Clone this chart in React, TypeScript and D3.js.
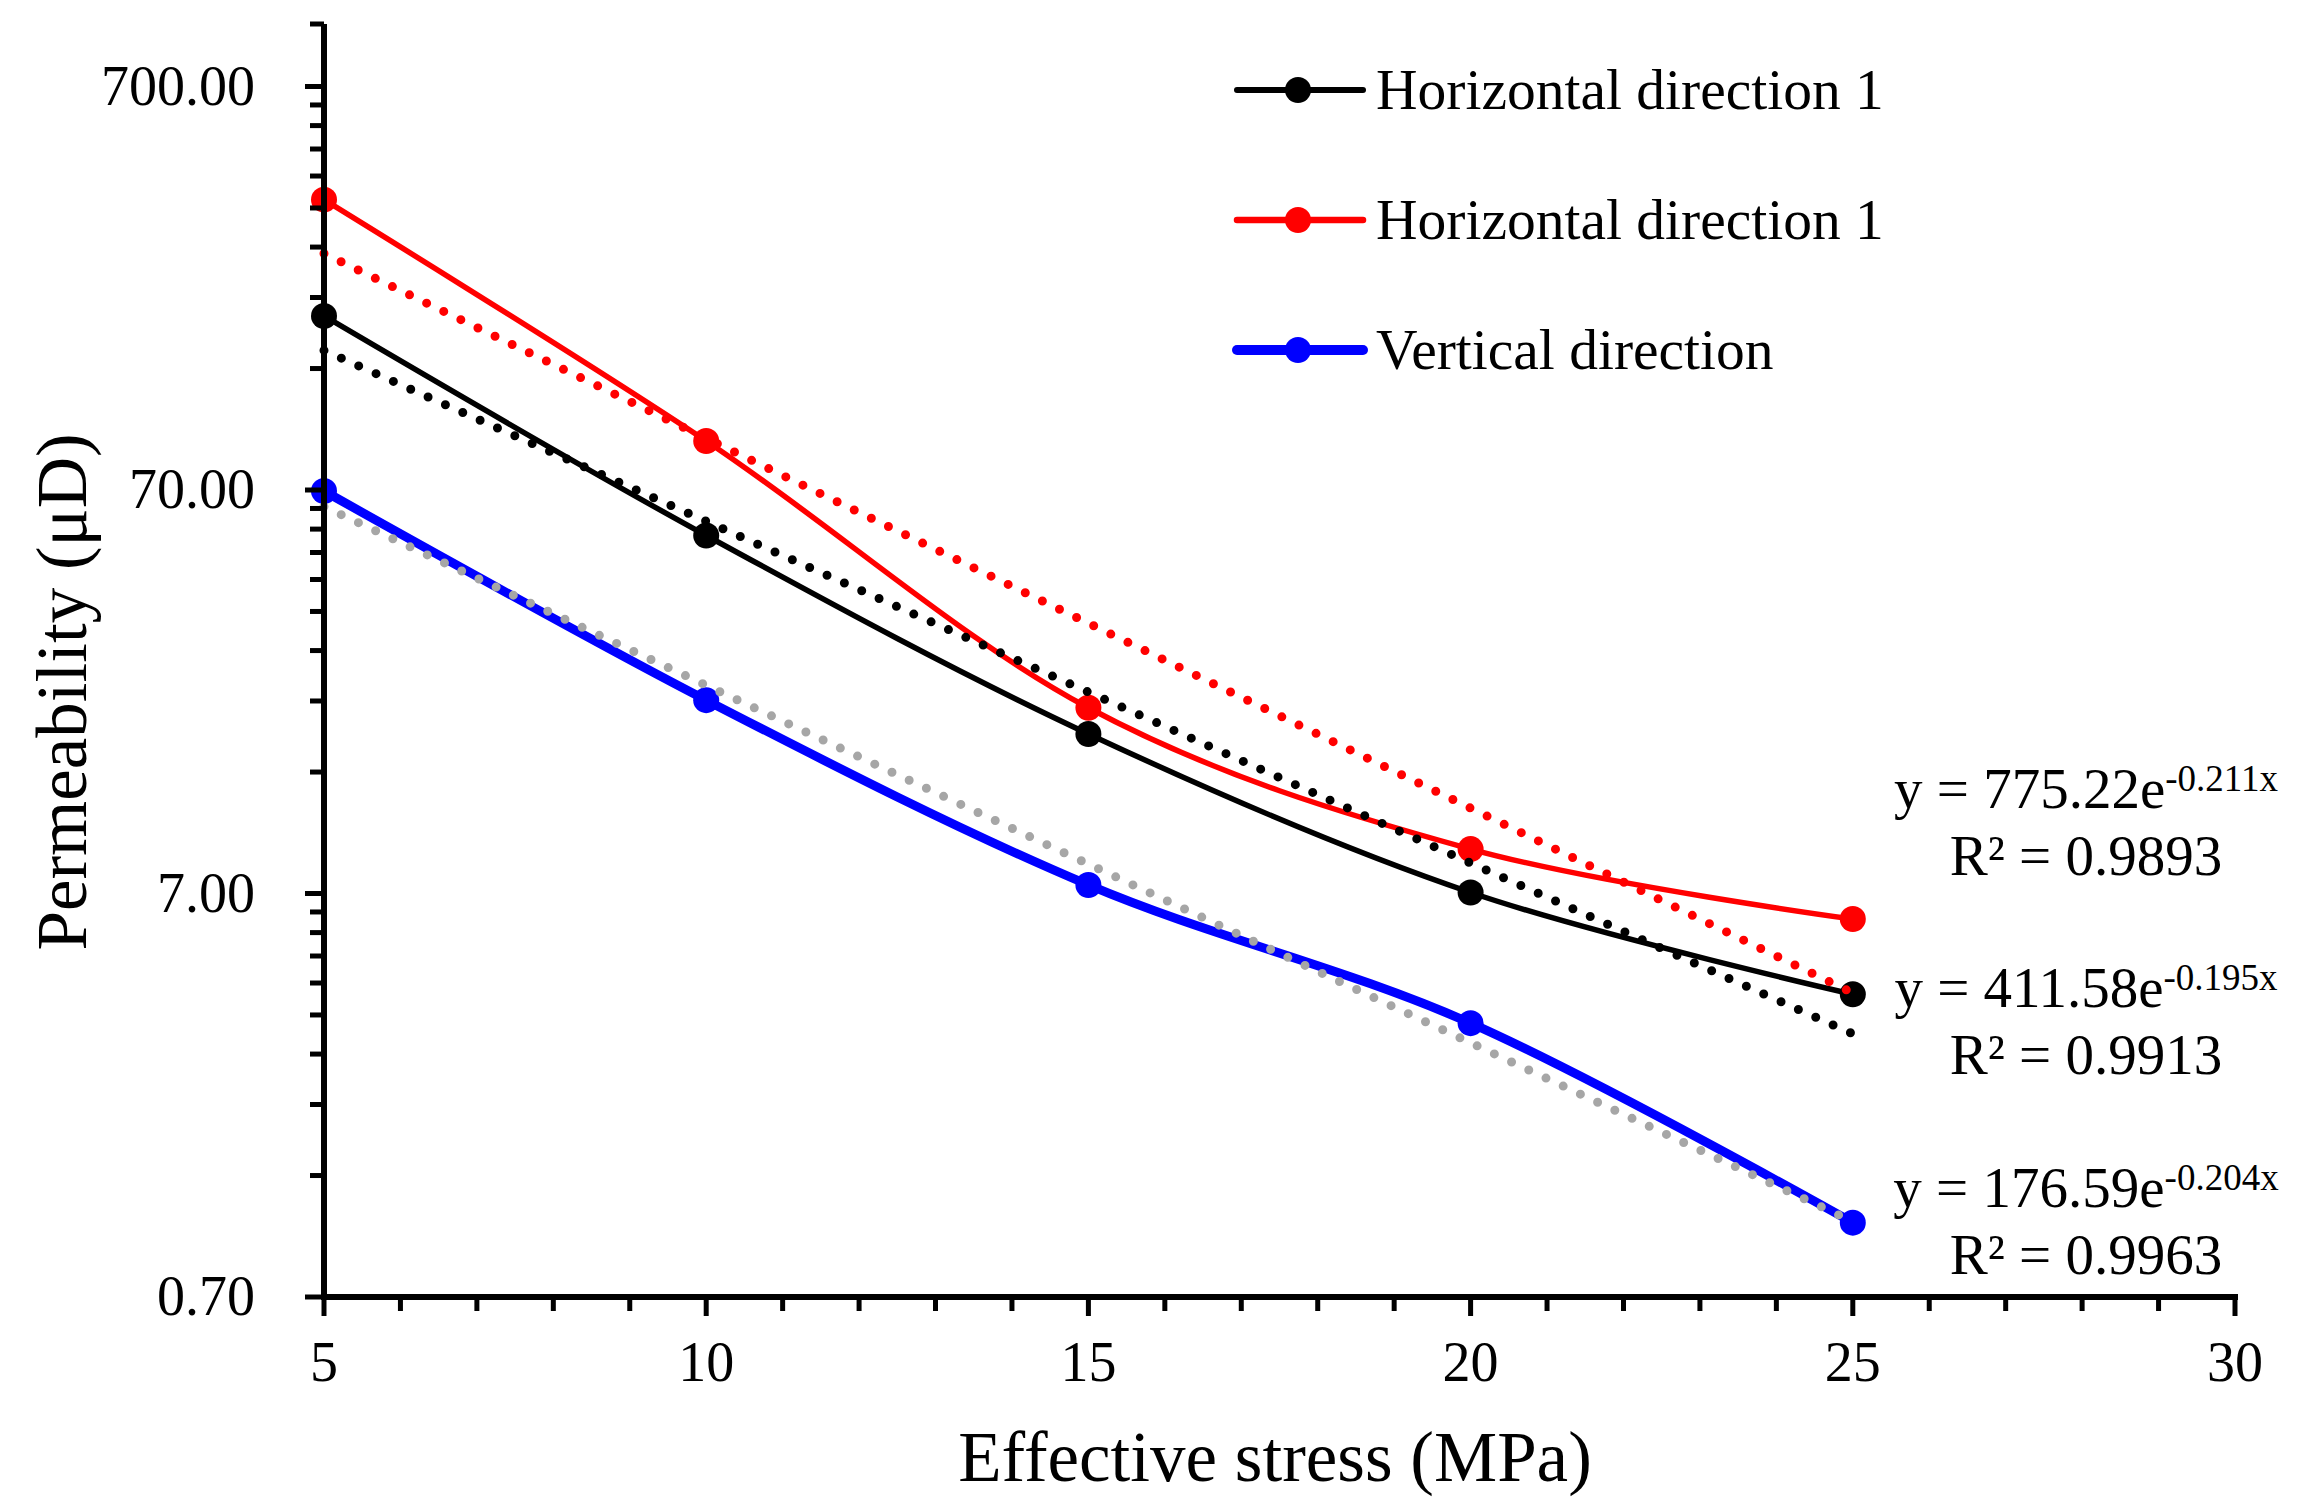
import * as d3 from "d3";
import { useEffect, useRef } from "react";

const WIDTH = 2302;
const HEIGHT = 1511;

// effective stress, MPa
const STRESS = [5, 10, 15, 20, 25];

// permeability, µD
const H1_VALUES = [189, 54.0, 17.4, 7.04, 3.94];
const H2_VALUES = [367, 92.6, 20.2, 9.02, 6.05];
const V_VALUES = [69.6, 21.1, 7.35, 3.34, 1.07];

const SERIES_NAMES = ["Horizontal direction 1", "Horizontal direction 1", "Vertical direction"];
const SERIES_COLORS = ["#000000", "#ff0000", "#0000ff"];
const TREND_COLORS = ["#000000", "#ff0000", "#a6a6a6"];

// exponential trendlines y = a·e^(b·x)
const TREND_A = [411.58, 775.22, 176.59];
const TREND_B = [-0.195, -0.211, -0.204];
const TREND_R2 = ["0.9913", "0.9893", "0.9963"];

const X_TICKS = [5, 10, 15, 20, 25, 30];
const Y_TICKS = [0.7, 7, 70, 700];

const FONT = "'Liberation Serif', 'Times New Roman', serif";

export default function App() {
  const svgRef = useRef<SVGSVGElement>(null);

  useEffect(() => {
    const node = svgRef.current;
    if (!node) return;
    const svg = d3.select(node);
    svg.selectAll("*").remove();

    const x = d3.scaleLinear().domain([5, 30]).range([324, 2235]);
    const y = d3.scaleLog().domain([0.7, 1000]).range([1297, 24]);

    const series = [H1_VALUES, H2_VALUES, V_VALUES];
    const lineWidths = [5.5, 5.5, 9];

    const line = d3
      .line<[number, number]>()
      .curve(d3.curveCardinal.tension(0))
      .x((d) => x(d[0]))
      .y((d) => y(d[1]));

    const plot = svg.append("g");

    // data lines + markers (draw in order black, red, blue)
    series.forEach((vals, i) => {
      const pts = STRESS.map((s, j) => [s, vals[j]] as [number, number]);
      plot
        .append("path")
        .attr("d", line(pts) ?? "")
        .attr("fill", "none")
        .attr("stroke", SERIES_COLORS[i])
        .attr("stroke-width", lineWidths[i])
        .attr("stroke-linejoin", "round");
      plot
        .selectAll(null)
        .data(pts)
        .enter()
        .append("circle")
        .attr("cx", (d) => x(d[0]))
        .attr("cy", (d) => y(d[1]))
        .attr("r", 13)
        .attr("fill", SERIES_COLORS[i]);
    });

    // trendlines (straight on a log axis)
    const trendX = d3.extent(STRESS) as [number, number];
    [2, 0, 1].forEach((i) => {
      const pts = trendX.map((s) => [s, TREND_A[i] * Math.exp(TREND_B[i] * s)] as [number, number]);
      plot
        .append("path")
        .attr("d", d3.line<[number, number]>().x((d) => x(d[0])).y((d) => y(d[1]))(pts) ?? "")
        .attr("fill", "none")
        .attr("stroke", TREND_COLORS[i])
        .attr("stroke-width", 9)
        .attr("stroke-linecap", "round")
        .attr("stroke-dasharray", "0 19");
    });

    // axes
    const axes = svg.append("g").attr("stroke", "#000");
    axes
      .append("line")
      .attr("x1", x(5))
      .attr("x2", x(5))
      .attr("y1", y(1000))
      .attr("y2", y(0.7) + 3)
      .attr("stroke-width", 6);
    axes
      .append("line")
      .attr("x1", x(5) - 3)
      .attr("x2", x(30) + 3)
      .attr("y1", y(0.7))
      .attr("y2", y(0.7))
      .attr("stroke-width", 6);

    // x ticks
    const xMinor = d3.range(5, 31, 1).filter((v) => !X_TICKS.includes(v));
    axes
      .selectAll(null)
      .data(xMinor)
      .enter()
      .append("line")
      .attr("x1", (d) => x(d))
      .attr("x2", (d) => x(d))
      .attr("y1", y(0.7))
      .attr("y2", y(0.7) + 14)
      .attr("stroke-width", 5);
    axes
      .selectAll(null)
      .data(X_TICKS)
      .enter()
      .append("line")
      .attr("x1", (d) => x(d))
      .attr("x2", (d) => x(d))
      .attr("y1", y(0.7))
      .attr("y2", y(0.7) + 19)
      .attr("stroke-width", 5);

    // y ticks
    const yMinor: number[] = [];
    Y_TICKS.forEach((t) => {
      for (let k = 2; k <= 9; k++) {
        const v = t * k;
        if (v < 1000) yMinor.push(v);
      }
    });
    yMinor.push(1000);
    axes
      .selectAll(null)
      .data(yMinor)
      .enter()
      .append("line")
      .attr("x1", x(5))
      .attr("x2", x(5) - 14)
      .attr("y1", (d) => y(d))
      .attr("y2", (d) => y(d))
      .attr("stroke-width", 5);
    axes
      .selectAll(null)
      .data(Y_TICKS)
      .enter()
      .append("line")
      .attr("x1", x(5))
      .attr("x2", x(5) - 19)
      .attr("y1", (d) => y(d))
      .attr("y2", (d) => y(d))
      .attr("stroke-width", 5);

    const labels = svg.append("g").attr("font-family", FONT).attr("fill", "#000");

    labels
      .selectAll(null)
      .data(X_TICKS)
      .enter()
      .append("text")
      .attr("x", (d) => x(d))
      .attr("y", 1381)
      .attr("text-anchor", "middle")
      .attr("font-size", 56)
      .text((d) => String(d));

    labels
      .selectAll(null)
      .data(Y_TICKS)
      .enter()
      .append("text")
      .attr("x", 255)
      .attr("y", (d) => y(d))
      .attr("dy", "0.33em")
      .attr("text-anchor", "end")
      .attr("font-size", 56)
      .text((d) => d3.format(".2f")(d));

    labels
      .append("text")
      .attr("x", 1275)
      .attr("y", 1481)
      .attr("text-anchor", "middle")
      .attr("font-size", 71)
      .text("Effective stress (MPa)");

    labels
      .append("text")
      .attr("transform", "translate(86,692) rotate(-90)")
      .attr("text-anchor", "middle")
      .attr("font-size", 71)
      .text("Permeability (μD)");

    // legend
    const legendY = [90, 220, 350];
    const legendW = [6, 6.5, 10];
    SERIES_NAMES.forEach((name, i) => {
      const g = svg.append("g").attr("transform", `translate(0,${legendY[i]})`);
      g.append("line")
        .attr("x1", 1237)
        .attr("x2", 1363)
        .attr("stroke", SERIES_COLORS[i])
        .attr("stroke-width", legendW[i])
        .attr("stroke-linecap", "round");
      g.append("circle").attr("cx", 1298).attr("r", 13).attr("fill", SERIES_COLORS[i]);
      g.append("text")
        .attr("x", 1376)
        .attr("y", 19)
        .attr("font-family", FONT)
        .attr("font-size", 57.5)
        .text(name);
    });

    // trendline equations
    const eqBaseline = [1007, 808, 1207];
    TREND_A.forEach((a, i) => {
      const t = labels
        .append("text")
        .attr("x", 2086)
        .attr("y", eqBaseline[i])
        .attr("text-anchor", "middle")
        .attr("font-size", 57);
      t.append("tspan").text(`y = ${d3.format(".2f")(a)}e`);
      t.append("tspan")
        .attr("font-size", 37)
        .attr("dy", -17)
        .text(`${d3.format(".3f")(TREND_B[i]).replace("−", "-")}x`);
      labels
        .append("text")
        .attr("x", 2086)
        .attr("y", eqBaseline[i] + 67)
        .attr("text-anchor", "middle")
        .attr("font-size", 57)
        .text(`R² = ${TREND_R2[i]}`);
    });
  }, []);

  return (
    <svg
      ref={svgRef}
      width={WIDTH}
      height={HEIGHT}
      viewBox={`0 0 ${WIDTH} ${HEIGHT}`}
      style={{ position: "absolute", left: 0, top: 0, background: "#fff" }}
    />
  );
}
